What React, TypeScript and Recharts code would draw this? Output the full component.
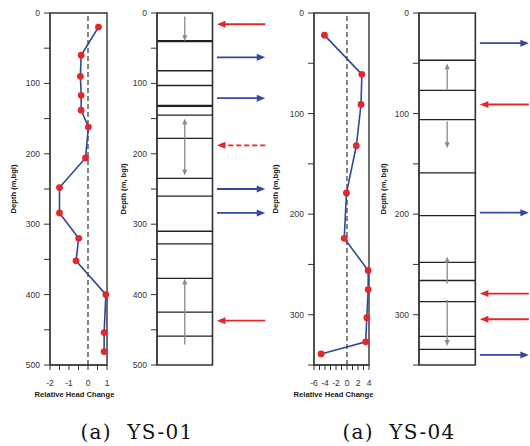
import React from 'react';
import {
  ScatterChart,
  Scatter,
  XAxis,
  YAxis,
  ReferenceLine,
  ReferenceArea,
} from 'recharts';

// ---------- data ----------
const ys01Depth = [20, 60, 90, 117, 138, 162, 206, 248, 284, 320, 352, 400, 454, 481];
const ys01Change = [0.55, -0.36, -0.4, -0.36, -0.36, 0.02, -0.13, -1.5, -1.5, -0.49, -0.63, 0.94, 0.85, 0.85];

const ys04Depth = [22, 61, 91, 132, 179, 224, 256, 275, 303, 327, 339];
const ys04Change = [-4.1, 2.7, 2.55, 1.7, -0.1, -0.5, 3.85, 3.85, 3.6, 3.4, -4.7];

const ys01DepthTicks = [0, 50, 100, 150, 200, 250, 300, 350, 400, 450, 500];
const ys01ChangeTicks = [-2, -1.5, -1, -0.5, 0, 0.5, 1];
const ys01ChangeLabelStep = 1;
const ys04DepthTicks = [0, 50, 100, 150, 200, 250, 300, 350];
const ys04ChangeTicks = [-6, -5, -4, -3, -2, -1, 0, 1, 2, 3, 4];
const ys04ChangeLabelStep = 2;

// strip logs: layer boundaries (m)
const ys01Layers = [40, 82, 103, 132, 145, 178, 235, 260, 310, 328, 377, 425, 459];
const ys01ThickLayers = [40, 132];
const ys04Layers = [47, 77, 106, 159, 201.5, 248, 266, 287, 321.5, 334.5];
const ys04ThickLayers: number[] = [];

// vertical gray arrows (from depth -> to depth, head at "to")
const ys01FlowFrom = [5, 178, 178, 471];
const ys01FlowTo = [40, 150, 231, 377];
const ys04FlowFrom = [77, 108, 269, 285];
const ys04FlowTo = [50, 134.5, 242, 331];

// inflow / outflow arrows at the side
const ys01ArrowDepth = [16, 63, 121, 188, 250, 284, 437];
const ys01ArrowKind = ['in', 'out', 'out', 'in-dashed', 'out', 'out', 'in'];
const ys04ArrowDepth = [30, 91, 198.5, 279, 304.5, 340];
const ys04ArrowKind = ['out', 'in', 'out', 'in', 'in', 'out'];

// ---------- styles ----------
const FONT = 'Liberation Sans, Arial, sans-serif';
const RED = '#e5262b';
const BLUE = '#34499a';
const LINE_BLUE = '#2f4a96';
const GRAY = '#8a8a8a';
const tickStyle = { fontSize: 8.5, fill: '#333', fontFamily: FONT };
const titleStyle = { fontSize: 7.6, fontWeight: 700, fill: '#222', fontFamily: FONT, textAnchor: 'middle' as const };

const makeArrow =
  (color: string, width: number, headLen: number, headW: number, dash: string | undefined, headAtStart: boolean) =>
  (p: any) => {
    const { x1, y1, x2, y2 } = p;
    if ([x1, y1, x2, y2].some((v) => typeof v !== 'number' || isNaN(v))) return <g />;
    let sx = x1, sy = y1, tx = x2, ty = y2;
    if (headAtStart) {
      sx = x2; sy = y2; tx = x1; ty = y1;
    }
    const dx = tx - sx;
    const dy = ty - sy;
    const len = Math.hypot(dx, dy) || 1;
    const ux = dx / len;
    const uy = dy / len;
    const bx = tx - ux * headLen;
    const by = ty - uy * headLen;
    const px = -uy;
    const py = ux;
    return (
      <g>
        <line x1={sx} y1={sy} x2={bx + ux} y2={by + uy} stroke={color} strokeWidth={width} strokeDasharray={dash} />
        <polygon
          points={`${tx},${ty} ${bx + (px * headW) / 2},${by + (py * headW) / 2} ${bx - (px * headW) / 2},${by - (py * headW) / 2}`}
          fill={color}
        />
      </g>
    );
  };

const grayArrow = makeArrow(GRAY, 1.3, 6, 5, undefined, false);
const outArrow = makeArrow(BLUE, 1.8, 8.5, 7, undefined, false);
const inArrow = makeArrow(RED, 1.8, 8.5, 7, undefined, true);
const inDashedArrow = makeArrow(RED, 1.6, 8.5, 7, '5 3', true);

const dot = (p: any) => <circle cx={p.cx} cy={p.cy} r={3.4} fill={RED} />;
const noDot = () => <g />;

const depthFmt = (v: number) => (v % 100 === 0 ? String(v) : '');

const ARROW_X0 = 1.08;
const ARROW_X1 = 1.95;

function ProfileChart(props: {
  left: number;
  width: number;
  yAxisWidth: number;
  marginRight: number;
  depth: number[];
  change: number[];
  depthMax: number;
  depthTicks: number[];
  changeMin: number;
  changeMax: number;
  changeTicks: number[];
  labelStep: number;
  yTitle: string;
  titleOffset: number;
  xTitleDx: number;
}) {
  const data = props.depth.map((d, i) => ({ depth: d, change: props.change[i] }));
  const fmt = (v: number) => (Number.isInteger(v) && v % props.labelStep === 0 ? String(v) : '');
  return (
    <div style={{ position: 'absolute', left: props.left, top: 0 }}>
      <ScatterChart width={props.width} height={400} margin={{ top: 13, right: props.marginRight, bottom: 0, left: 0 }}>
        <XAxis
          type="number"
          dataKey="change"
          domain={[props.changeMin, props.changeMax]}
          ticks={props.changeTicks}
          tickFormatter={fmt}
          interval={0}
          height={35}
          tickSize={5}
          tickMargin={10}
          tick={tickStyle}
          stroke="#333"
          label={{
            value: 'Relative Head Change',
            position: 'insideBottom',
            offset: 3,
            dx: props.xTitleDx,
            style: titleStyle,
          }}
        />
        <YAxis
          type="number"
          dataKey="depth"
          reversed
          domain={[0, props.depthMax]}
          ticks={props.depthTicks}
          tickFormatter={depthFmt}
          interval={0}
          width={props.yAxisWidth}
          tickSize={6}
          tickMargin={4}
          tick={tickStyle}
          stroke="#333"
          label={{
            value: props.yTitle,
            angle: -90,
            position: 'insideLeft',
            offset: props.titleOffset,
            style: titleStyle,
          }}
        />
        <ReferenceArea
          x1={props.changeMin}
          x2={props.changeMax}
          y1={0}
          y2={props.depthMax}
          fill="none"
          stroke="#333"
          strokeWidth={1.4}
        />
        <ReferenceLine x={0} stroke="#222" strokeWidth={1.1} strokeDasharray="5 3" />
        <Scatter
          data={data}
          line={{ stroke: LINE_BLUE, strokeWidth: 1.6 }}
          lineType="joint"
          shape={dot}
          isAnimationActive={false}
        />
      </ScatterChart>
    </div>
  );
}

function StripChart(props: {
  left: number;
  yAxisWidth: number;
  width: number;
  xMax: number;
  depthMax: number;
  depthTicks: number[];
  layers: number[];
  thick: number[];
  flowFrom: number[];
  flowTo: number[];
  arrowDepth: number[];
  arrowKind: string[];
  titleOffset: number;
}) {
  const anchorData = props.layers.map((d) => ({ x: 0.5, y: d }));
  return (
    <div style={{ position: 'absolute', left: props.left, top: 0 }}>
      <ScatterChart width={props.width} height={400} margin={{ top: 13, right: 0, bottom: 35, left: 0 }}>
        <XAxis type="number" dataKey="x" domain={[0, props.xMax]} hide />
        <YAxis
          type="number"
          dataKey="y"
          reversed
          domain={[0, props.depthMax]}
          ticks={props.depthTicks}
          tickFormatter={depthFmt}
          interval={0}
          width={props.yAxisWidth}
          tickSize={6}
          tickMargin={4}
          tick={tickStyle}
          stroke="#333"
          label={{
            value: 'Depth (m, bgl)',
            angle: -90,
            position: 'insideLeft',
            offset: props.titleOffset,
            style: titleStyle,
          }}
        />
        <Scatter data={anchorData} shape={noDot} isAnimationActive={false} />
        <ReferenceArea x1={0} x2={1} y1={0} y2={props.depthMax} fill="none" stroke="#333" strokeWidth={1.6} />
        {props.layers.map((d) => (
          <ReferenceLine
            key={'l' + d}
            segment={[
              { x: 0, y: d },
              { x: 1, y: d },
            ]}
            stroke="#222"
            strokeWidth={props.thick.includes(d) ? 2.2 : 1.3}
          />
        ))}
        {props.flowFrom.map((f, i) => (
          <ReferenceLine
            key={'f' + i}
            segment={[
              { x: 0.5, y: f },
              { x: 0.5, y: props.flowTo[i] },
            ]}
            shape={grayArrow}
          />
        ))}
        {props.arrowDepth.map((d, i) => {
          const k = props.arrowKind[i];
          const shape = k === 'out' ? outArrow : k === 'in' ? inArrow : inDashedArrow;
          return (
            <ReferenceLine
              key={'a' + i}
              segment={[
                { x: ARROW_X0, y: d },
                { x: ARROW_X1, y: d },
              ]}
              shape={shape}
            />
          );
        })}
      </ScatterChart>
    </div>
  );
}

const captionStyle: React.CSSProperties = {
  position: 'absolute',
  top: 420,
  width: 200,
  textAlign: 'center',
  fontFamily: 'DejaVu Serif, serif',
  fontSize: 20,
  letterSpacing: 1.3,
  whiteSpace: 'pre',
  color: '#111',
};

export default function App() {
  return (
    <div style={{ position: 'absolute', left: 0, top: 0, width: 530, height: 446, background: '#fff', overflow: 'hidden' }}>
      <ProfileChart
        left={0}
        width={120}
        yAxisWidth={50}
        marginRight={13}
        depth={ys01Depth}
        change={ys01Change}
        depthMax={500}
        depthTicks={ys01DepthTicks}
        changeMin={-2}
        changeMax={1}
        changeTicks={ys01ChangeTicks}
        labelStep={ys01ChangeLabelStep}
        yTitle="Depth (m,bgl)"
        titleOffset={13}
        xTitleDx={-4}
      />
      <StripChart
        left={110}
        yAxisWidth={47}
        width={158}
        xMax={2.0}
        depthMax={500}
        depthTicks={ys01DepthTicks}
        layers={ys01Layers}
        thick={ys01ThickLayers}
        flowFrom={ys01FlowFrom}
        flowTo={ys01FlowTo}
        arrowDepth={ys01ArrowDepth}
        arrowKind={ys01ArrowKind}
        titleOffset={13}
      />
      <ProfileChart
        left={264}
        width={110}
        yAxisWidth={50}
        marginRight={5}
        depth={ys04Depth}
        change={ys04Change}
        depthMax={350}
        depthTicks={ys04DepthTicks}
        changeMin={-6}
        changeMax={4}
        changeTicks={ys04ChangeTicks}
        labelStep={ys04ChangeLabelStep}
        yTitle="Depth (m,bgl)"
        titleOffset={11}
        xTitleDx={-8}
      />
      <StripChart
        left={372}
        yAxisWidth={47}
        width={158}
        xMax={1.97}
        depthMax={350}
        depthTicks={ys04DepthTicks}
        layers={ys04Layers}
        thick={ys04ThickLayers}
        flowFrom={ys04FlowFrom}
        flowTo={ys04FlowTo}
        arrowDepth={ys04ArrowDepth}
        arrowKind={ys04ArrowKind}
        titleOffset={11}
      />
      <div style={{ ...captionStyle, left: 37 }}>{'(a)  YS-01'}</div>
      <div style={{ ...captionStyle, left: 299 }}>{'(a)  YS-04'}</div>
    </div>
  );
}
